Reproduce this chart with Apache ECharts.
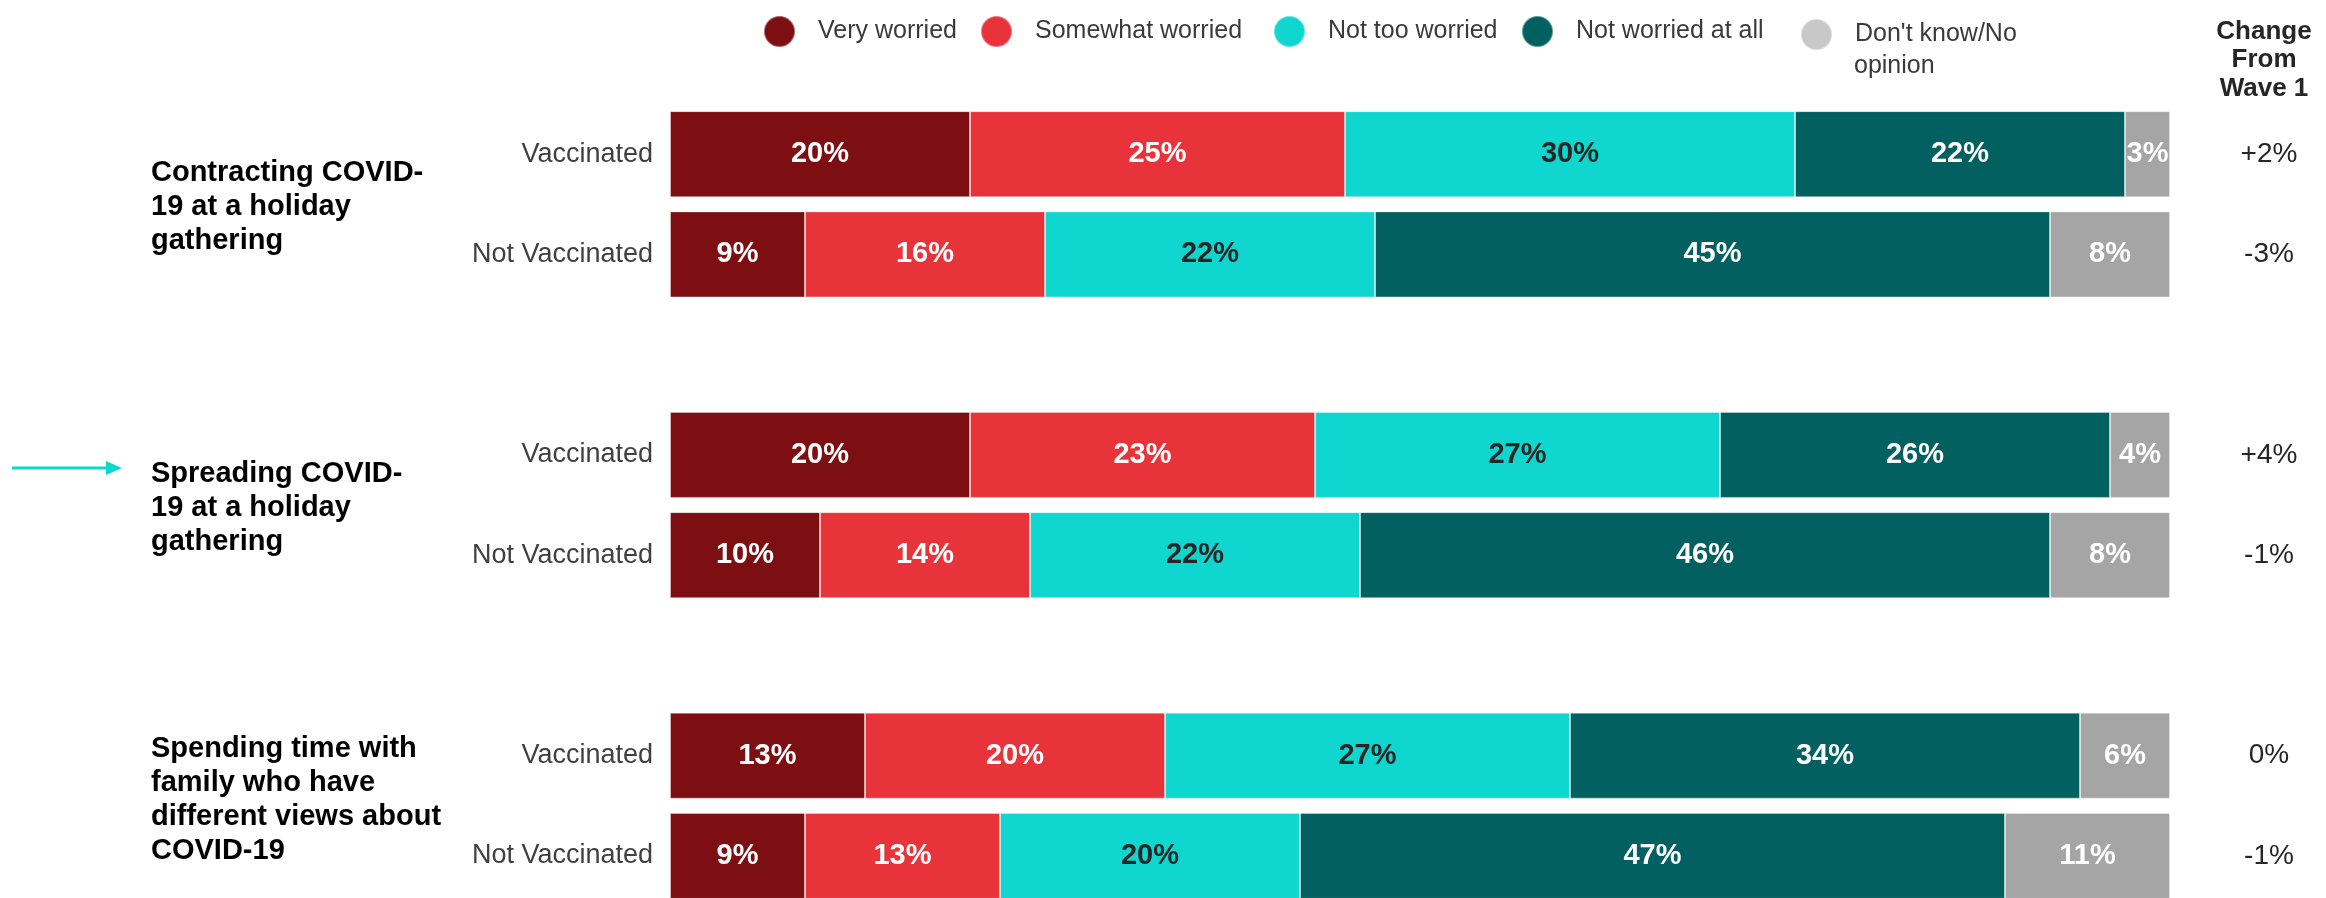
<!DOCTYPE html>
<html>
<head>
<meta charset="utf-8">
<script src="https://cdn.jsdelivr.net/npm/echarts@6/dist/echarts.min.js"></script>
<style>
html,body{margin:0;padding:0;background:#fff;overflow:hidden;}
#chart{width:2326px;height:898px;}
</style>
</head>
<body>
<div id="chart"></div>
<script>
// ---- data ----
const topics = [
  'Contracting COVID-\n19 at a holiday\ngathering',
  'Spreading COVID-\n19 at a holiday\ngathering',
  'Spending time with\nfamily who have\ndifferent views about\nCOVID-19'
];
const segments = ['Vaccinated', 'Not Vaccinated'];
const seriesNames = ['Very worried', 'Somewhat worried', 'Not too worried', 'Not worried at all', "Don't know/No opinion"];
// values in order: topic1 V, topic1 NV, topic2 V, topic2 NV, topic3 V, topic3 NV
const veryWorried     = [20, 9, 20, 10, 13, 9];
const somewhatWorried = [25, 16, 23, 14, 20, 13];
const notTooWorried   = [30, 22, 27, 22, 27, 20];
const notWorriedAtAll = [22, 45, 26, 46, 34, 47];
const dontKnow        = [3, 8, 4, 8, 6, 11];
const changeFromWave1 = ['+2%', '-3%', '+4%', '-1%', '0%', '-1%'];
const changeHeader = 'Change\nFrom\nWave 1';

// ---- build rows (with a spacer row between topics) ----
function toRows(arr, blank) {
  const out = [];
  for (let t = 0; t < topics.length; t++) {
    if (t > 0) out.push(blank);
    out.push(arr[t * 2], arr[t * 2 + 1]);
  }
  return out;
}
const rowLabels = toRows(topics.flatMap(() => segments), '');
const rowChange = toRows(changeFromWave1, '');

const colors = ['#7D0E12', '#E8333A', '#0FD6CE', '#026060', '#A5A5A5'];
const legendColors = ['#7D0E12', '#E8333A', '#0FD6CE', '#026060', '#C8C8C8'];
const labelColors = ['#ffffff', '#ffffff', '#262626', '#ffffff', '#ffffff'];
const valueSets = [veryWorried, somewhatWorried, notTooWorried, notWorriedAtAll, dontKnow];

const FONT = '"Liberation Sans", Arial, sans-serif';

const series = seriesNames.map((name, i) => ({
  name: name,
  type: 'bar',
  stack: 'total',
  barWidth: 86,
  data: toRows(valueSets[i], '-'),
  itemStyle: { color: colors[i], borderColor: 'rgba(255,255,255,0.35)', borderWidth: 1 },
  label: {
    show: true,
    position: 'inside',
    formatter: '{c}%',
    color: labelColors[i],
    fontFamily: FONT,
    fontWeight: 'bold',
    fontSize: 29
  },
  emphasis: { disabled: true }
}));

const legendLefts = [763, 980, 1273, 1521, 1800];
const legends = seriesNames.map((name, i) => ({
  data: [{ name: name, itemStyle: { color: legendColors[i] } }],
  left: legendLefts[i],
  top: i === 4 ? 18 : 15,
  padding: 0,
  icon: 'circle',
  itemWidth: 31,
  itemHeight: 31,
  selectedMode: false,
  formatter: i === 4 ? "Don't know/No" : '{name}',
  textStyle: {
    fontFamily: FONT,
    fontSize: 25,
    color: '#3a3a3a',
    padding: i === 4 ? [6, 0, 0, 18] : [0, 0, 0, 18]
  }
}));

const chart = echarts.init(document.getElementById('chart'), null, { renderer: 'canvas' });
chart.setOption({
  animation: false,
  backgroundColor: '#ffffff',
  legend: legends,
  grid: { left: 670, right: 156, top: 104, height: 802, outerBoundsMode: 'none', containLabel: false },
  xAxis: {
    type: 'value', min: 0, max: 100,
    show: false
  },
  yAxis: [{
    type: 'category',
    inverse: true,
    data: rowLabels,
    axisLine: { show: false },
    axisTick: { show: false },
    axisLabel: { margin: 17, fontFamily: FONT, fontSize: 27, color: '#404040' }
  }, {
    type: 'category',
    inverse: true,
    position: 'right',
    data: rowChange,
    axisLine: { show: false },
    axisTick: { show: false },
    axisLabel: { margin: 99, align: 'center', fontFamily: FONT, fontSize: 28, color: '#262626' }
  }],
  series: series
});

// topic labels, header, arrow
const graphics = [];
for (let t = 0; t < topics.length; t++) {
  const y1 = chart.convertToPixel({ yAxisIndex: 0 }, t * 3);
  const y2 = chart.convertToPixel({ yAxisIndex: 0 }, t * 3 + 1);
  const nLines = topics[t].split('\n').length;
  graphics.push({
    type: 'text', x: 151, y: (y1 + y2) / 2 + 3 - Math.max(0, nLines - 3) * 9, silent: true,
    style: {
      text: topics[t], fontFamily: FONT, fontWeight: 'bold', fontSize: 29,
      lineHeight: 34, fill: '#000000', verticalAlign: 'middle', align: 'left'
    }
  });
}
graphics.push({
  type: 'text', x: 1854, y: 66, silent: true,
  style: { text: 'opinion', fontFamily: FONT, fontSize: 25, fill: '#3a3a3a', verticalAlign: 'middle', align: 'left' }
});
graphics.push({
  type: 'text', x: 2264, y: 60, silent: true,
  style: {
    text: changeHeader, fontFamily: FONT, fontWeight: 'bold', fontSize: 26,
    lineHeight: 28.5, fill: '#262626', align: 'center', verticalAlign: 'middle'
  }
});
graphics.push({
  type: 'line', silent: true,
  shape: { x1: 12, y1: 468, x2: 110, y2: 468 },
  style: { stroke: '#0FD6CE', lineWidth: 3 }
});
graphics.push({
  type: 'polygon', silent: true,
  shape: { points: [[106, 461], [122, 468], [106, 475]] },
  style: { fill: '#0FD6CE' }
});
chart.setOption({ graphic: graphics });
</script>
</body>
</html>
